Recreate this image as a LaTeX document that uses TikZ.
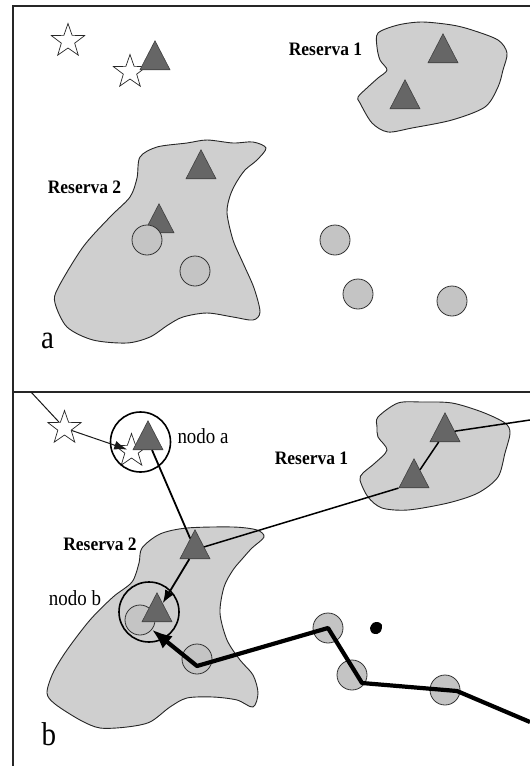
\documentclass[tikz,border=0pt]{standalone}
\usepackage{fontspec}
\setmainfont{Liberation Serif}
\newfontfamily\rsvfont[FakeStretch=0.92]{Liberation Serif}
\newfontfamily\lblfont[FakeStretch=0.88]{Liberation Serif}
\usetikzlibrary{shapes.geometric,arrows.meta}
\definecolor{blobgray}{HTML}{CFCFCF}
\definecolor{trigray}{HTML}{666666}
\definecolor{circgray}{HTML}{C4C4C4}
\begin{document}
\begin{tikzpicture}[x=1pt,y=-1pt,
 blob/.style={fill=blobgray, draw=black!85, line width=0.9pt},
 tri/.style={isosceles triangle, isosceles triangle stretches, shape border rotate=90,
   minimum width=30pt, minimum height=29pt, inner sep=0pt, anchor=apex,
   fill=trigray, draw=black!75, line width=0.6pt},
 spot/.style={circle, minimum size=30pt, inner sep=0pt, fill=circgray, draw=black!80, line width=0.8pt},
 starn/.style={star, star points=5, star point ratio=2.5, minimum size=35pt, inner sep=0pt,
   fill=white, draw=black!85, line width=0.7pt},
 rlabel/.style={font=\rsvfont\bfseries\fontsize{19}{19}\selectfont, anchor=base, inner sep=0pt},
 nlabel/.style={font=\lblfont\fontsize{21.5}{21.5}\selectfont, anchor=base, inner sep=0pt},
 plabel/.style={font=\lblfont\fontsize{33}{33}\selectfont, anchor=base, inner sep=0pt},
 frame/.style={line width=2.6pt, draw=black!85},
 ring/.style={circle, minimum size=60pt, inner sep=0pt, draw=black, line width=1.6pt},
 thinline/.style={line width=1.0pt, draw=black!90},
 midline/.style={line width=1.8pt, draw=black},
 linkline/.style={line width=1.5pt, draw=black},
 heavy/.style={line width=4.2pt, draw=black, line join=round},
]
\useasboundingbox (0,0) rectangle (530,766);
\fill[white] (0,0) rectangle (530,766);

% frame
\draw[frame] (530,6) -- (13,6) -- (13,766);
\draw[frame] (13,392) -- (530,392);

% ---------------- panel a ----------------
\draw[blob] plot[smooth cycle] coordinates {(377,47) (378,33) (398,25) (422,22) (452,25) (472,30) (498,40) (507,53) (503,70) (498,87) (485,107) (452,120) (412,128) (388,132) (372,123) (360,103) (358,97) (368,87) (378,78) (387,70) (380,60)};
\draw[blob] plot[smooth cycle] coordinates {(140,157) (157,147) (187,143) (207,140) (233,143) (253,142) (266,148) (257,160) (245,170) (236,183) (230,196) (227,213) (233,240) (243,263) (254,288) (260,312) (253,320) (233,317) (207,313) (183,317) (168,325) (150,337) (127,343) (93,340) (67,327) (55,303) (58,288) (83,247) (110,217) (130,197) (137,178)};

\node[starn] (sa1) at (68,41) {};
\node[starn] (sa2) at (130,72) {};

\node[tri] (ta1) at (155,40) {};
\node[tri] (ta2) at (201,149) {};
\node[tri] (ta3) at (159,203) {};
\node[tri] (ta4) at (443,33) {};
\node[tri] (ta5) at (405,79) {};

\node[spot] (ca1) at (147,240) {};
\node[spot] (ca2) at (195,271) {};
\node[spot] (ca3) at (335,240) {};
\node[spot] (ca4) at (358,294) {};
\node[spot] (ca5) at (452,301) {};

\node[rlabel] (r1a) at (325.5,55) {Reserva 1};
\node[rlabel] (r2a) at (84.5,193) {Reserva 2};
\node[plabel] (pa) at (47.5,348) {a};

% ---------------- panel b ----------------
\draw[blob] plot[smooth cycle] coordinates {(377,427) (378,417) (398,403) (422,402) (452,403) (482,412) (505,423) (510,433) (505,453) (498,477) (478,493) (448,503) (408,510) (382,508) (368,497) (360,480) (363,473) (375,463) (387,450) (378,437)};
\draw[blob] plot[smooth cycle] coordinates {(142,548) (160,534) (187,528) (233,527) (257,530) (264,537) (252,548) (243,558) (233,570) (224,587) (220,613) (227,640) (240,660) (253,675) (258,693) (253,707) (237,700) (213,697) (187,698) (170,707) (150,722) (127,727) (100,728) (80,720) (55,704) (47,693) (53,673) (67,650) (90,620) (113,597) (132,582) (139,563)};

\node[starn] (sb1) at (64.5,428) {};
\node[starn] (sb2) at (131.5,451) {};

\node[spot] (cb0) at (140,620) {};
\node[spot] (cb1) at (197,659) {};
\node[spot] (cb2) at (328,628) {};
\node[spot] (cb3) at (352,675) {};
\node[spot] (cb4) at (445,690) {};

\node[tri] (tb1) at (148,420) {};
\node[tri] (tb2) at (195,529) {};
\node[tri] (tb3) at (445,412) {};
\node[tri] (tb4) at (414,458) {};
\node[tri] (tb5) at (157,592) {};

\node[ring] (ra) at (140.5,442) {};
\node[ring] (rb) at (149,612) {};

\coordinate (inb) at (31,392);
\coordinate (rout) at (530,420);
\coordinate (p0) at (530,722);
\coordinate (p1) at (457,691);
\coordinate (p2) at (362,683);
\coordinate (p3) at (328,628);
\coordinate (p4) at (197,666);

\draw[thinline] (inb) -- (sb1);
\draw[thinline, -{Latex[length=13pt,width=9pt]}, shorten >=4.5pt] (sb1) -- (sb2.center);
\draw[midline] (tb1) -- (tb2);
\draw[linkline] (tb2) -- (tb4.left corner);
\draw[linkline] (tb4) -- (tb3);
\draw[linkline] (tb3) -- (rout);
\draw[midline, -{Latex[length=13pt,width=10pt]}] (tb2) -- (tb5);
\draw[heavy, -{Latex[length=20pt,width=16pt]}] (p0) -- (p1) -- (p2) -- (p3) -- (p4) -- (cb0);

\fill[black] plot[smooth cycle] coordinates {(370,628) (373,623) (378,622) (382,625) (381,631) (377,634) (372,633)};

\node[rlabel] (r1b) at (311.5,464) {Reserva 1};
\node[rlabel] (r2b) at (100,550) {Reserva 2};
\node[nlabel] (na) at (203,443) {nodo a};
\node[nlabel] (nb) at (75,605) {nodo b};
\node[plabel] (pb) at (49,745) {b};
\end{tikzpicture}
\end{document}
